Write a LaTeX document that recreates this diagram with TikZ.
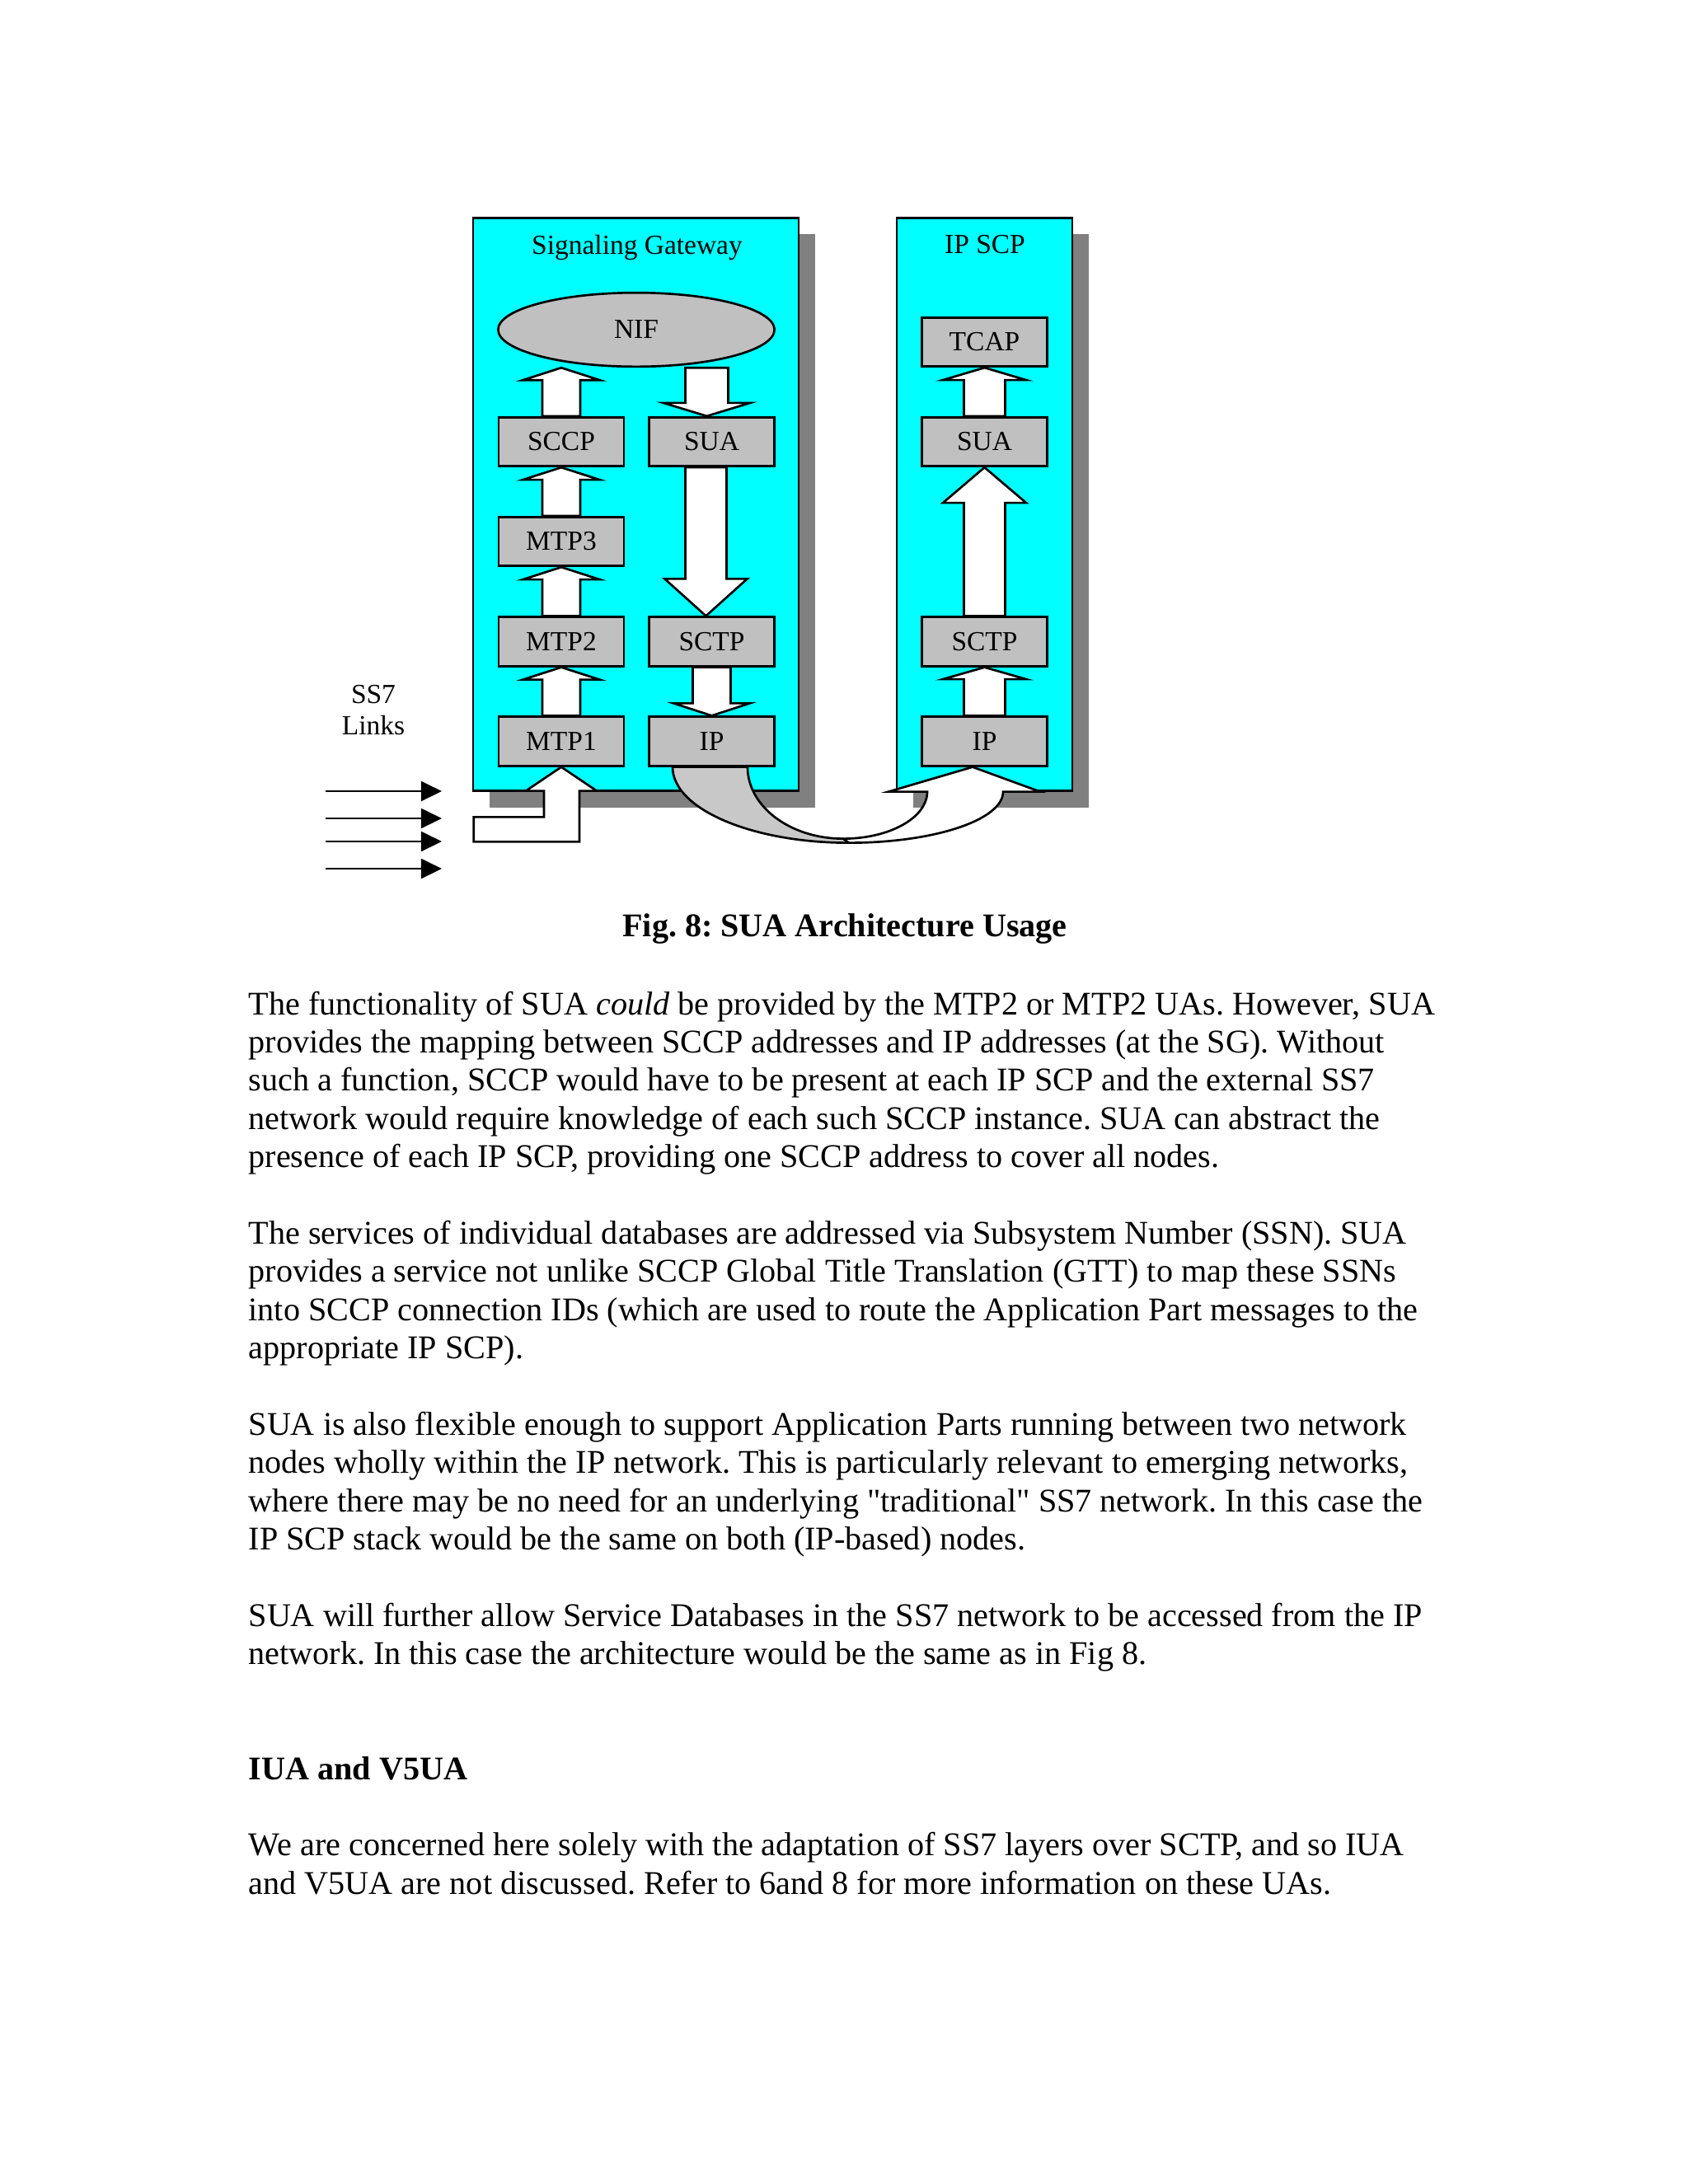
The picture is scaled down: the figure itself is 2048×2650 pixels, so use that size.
\documentclass[tikz,border=0pt]{standalone}
\usepackage{fontspec}
\setmainfont{Liberation Serif}[Ligatures=TeXOff]
\usetikzlibrary{calc,arrows.meta,shapes.geometric,shadows}
\definecolor{sgcyan}{RGB}{0,255,255}
\definecolor{boxgray}{RGB}{192,192,192}
\definecolor{shadowgray}{RGB}{128,128,128}
\definecolor{ribbongray}{RGB}{200,200,200}
\frenchspacing
% base, tip, shaft half width, head half width, signed head length
\newcommand{\blkarrow}[5]{%
  \draw[blk] (#2) -- ($(#2)+(#4,#5)$) -- ($(#2)+(#3,#5)$) -- ($(#1)+(#3,0)$)
    -- ($(#1)+(-#3,0)$) -- ($(#2)+(-#3,#5)$) -- ($(#2)+(-#4,#5)$) -- cycle;}
\begin{document}
\begin{tikzpicture}[x=0.29883pt,y=-0.29883pt,
  dfont/.style={font=\fontsize{10}{12}\selectfont},
  container/.style={draw, fill=sgcyan, line width=0.8pt, inner sep=0pt,
    drop shadow={shadow xshift=6pt, shadow yshift=-6pt, fill=shadowgray, opacity=1}},
  lay/.style={draw, fill=boxgray, line width=0.8pt, inner sep=0pt,
    minimum width=45.4pt, minimum height=17.8pt, dfont},
  blk/.style={draw, fill=white, line width=0.8pt, line join=miter},
  link/.style={line width=0.6pt, -{Triangle[length=7.5pt,width=7.2pt]}},
  body/.style={anchor=base west, inner sep=0pt, font=\fontsize{12}{14}\selectfont},
  title/.style={anchor=base, inner sep=0pt, dfont}]
\useasboundingbox (0,0) rectangle (2048,2650);
\fill[white] (0,0) rectangle (2048,2650);

% containers
\node[container, minimum width=118pt, minimum height=207.8pt] (sg) at (771.5,612) {};
\node[container, minimum width=63.6pt, minimum height=207.8pt] (scp) at (1194.5,612) {};
\node[title] (sgtitle) at (773,308) {Signaling Gateway};
\node[title] (scptitle) at (1195,307) {IP SCP};

% layers
\node[ellipse, draw, fill=boxgray, line width=0.8pt, inner sep=0pt,
  minimum width=100.2pt, minimum height=26.8pt, dfont] (nif) at (772,400) {NIF};
\node[lay] (sccp) at (681,536) {SCCP};
\node[lay] (sua1) at (863.5,536) {SUA};
\node[lay] (mtp3) at (681,657) {MTP3};
\node[lay] (mtp2) at (681,778.5) {MTP2};
\node[lay] (sctp1) at (863.5,778.5) {SCTP};
\node[lay] (mtp1) at (681,899.5) {MTP1};
\node[lay] (ip1) at (863.5,899.5) {IP};
\node[lay] (tcap) at (1194.5,415) {TCAP};
\node[lay] (sua2) at (1194.5,536) {SUA};
\node[lay] (sctp2) at (1194.5,778.5) {SCTP};
\node[lay] (ip2) at (1194.5,899.5) {IP};

% block arrows, signaling gateway
\coordinate (nifin) at (sccp.north |- nif.south);
\blkarrow{sccp.north}{nifin}{23}{46.5}{15}
\blkarrow{mtp3.north}{sccp.south}{23}{46.5}{15}
\blkarrow{mtp2.north}{mtp3.south}{23}{46.5}{15}
\blkarrow{mtp1.north}{mtp2.south}{23}{46.5}{15}
\coordinate (nifout) at ($(sua1.north |- nif.south)+(-6,0)$);
\coordinate (suain) at ($(sua1.north)+(-6,0)$);
\blkarrow{nifout}{suain}{26}{52.5}{-16}
\coordinate (suaout) at ($(sua1.south)+(-7,0)$);
\coordinate (sctpin) at ($(sctp1.north)+(-7,0)$);
\blkarrow{suaout}{sctpin}{25}{50}{-45}
\blkarrow{sctp1.south}{ip1.north}{23}{46}{-15}

% block arrows, IP SCP
\blkarrow{ip2.north}{sctp2.south}{25}{50.5}{14.5}
\blkarrow{sctp2.north}{sua2.south}{25}{50.5}{43}
\blkarrow{sua2.north}{tcap.south}{25}{50.5}{15}

% curved arrow from IP to IP
\begin{scope}[shift={(ip1.south)}]
\draw[fill=ribbongray, line width=0.8pt] (-47.5,0) .. controls (-47.5,50.8) and (48.3,92) .. (166.5,92)
  -- (159.5,87) .. controls (95.4,87) and (43.5,48) .. (43.5,0) -- cycle;
\end{scope}
\begin{scope}[shift={(ip2.south)}]
\draw[blk] (-164.5,92) .. controls (-61.2,92) and (22.5,64.2) .. (22.5,30)
  -- (67.5,30) -- (-14.5,0) -- (-116.5,30) -- (-69.5,30)
  .. controls (-69.5,61.5) and (-115.2,87) .. (-171.5,87) -- cycle;
\end{scope}

% SS7 links input arrow
\draw[blk] (mtp1.south) -- ++(43,29) -- ++(-21,0) -- ++(0,61.7) -- ++(-128.3,0)
  -- ++(0,-30) -- ++(85.3,0) -- ++(0,-31.7) -- ++(-22,0) -- cycle;

\node[title] (ss7) at (453,853) {SS7};
\node[title] (links) at (453,891) {Links};
\coordinate (l1s) at (395,960);  \coordinate (l1e) at (536,960);
\coordinate (l2s) at (395,993);  \coordinate (l2e) at (536,993);
\coordinate (l3s) at (395,1021); \coordinate (l3e) at (536,1021);
\coordinate (l4s) at (395,1054); \coordinate (l4e) at (536,1054);
\draw[link] (l1s) -- (l1e);
\draw[link] (l2s) -- (l2e);
\draw[link] (l3s) -- (l3e);
\draw[link] (l4s) -- (l4e);

% caption and text
\node[anchor=base, inner sep=0pt, font=\fontsize{12}{14}\selectfont\bfseries] (cap) at (1025,1136) {Fig. 8: SUA Architecture Usage};

\node[body] (t1) at (301,1231) {The functionality of SUA \textit{could} be provided by the MTP2 or MTP2 UAs. However, SUA};
\node[body] (t2) at (301,1277.4) {provides the mapping between SCCP addresses and IP addresses (at the SG). Without};
\node[body] (t3) at (301,1323.8) {such a function, SCCP would have to be present at each IP SCP and the external SS7};
\node[body] (t4) at (301,1370.2) {network would require knowledge of each such SCCP instance. SUA can abstract the};
\node[body] (t5) at (301,1416.6) {presence of each IP SCP, providing one SCCP address to cover all nodes.};

\node[body] (t6) at (301,1509.4) {The services of individual databases are addressed via Subsystem Number (SSN). SUA};
\node[body] (t7) at (301,1555.8) {provides a service not unlike SCCP Global Title Translation (GTT) to map these SSNs};
\node[body] (t8) at (301,1602.2) {into SCCP connection IDs (which are used to route the Application Part messages to the};
\node[body] (t9) at (301,1648.6) {appropriate IP SCP).};

\node[body] (t10) at (301,1741.4) {SUA is also flexible enough to support Application Parts running between two network};
\node[body] (t11) at (301,1787.8) {nodes wholly within the IP network. This is particularly relevant to emerging networks,};
\node[body] (t12) at (301,1834.2) {where there may be no need for an underlying "traditional" SS7 network. In this case the};
\node[body] (t13) at (301,1880.6) {IP SCP stack would be the same on both (IP-based) nodes.};

\node[body] (t14) at (301,1973.4) {SUA will further allow Service Databases in the SS7 network to be accessed from the IP};
\node[body] (t15) at (301,2019.8) {network. In this case the architecture would be the same as in Fig 8.};

\node[body, font=\fontsize{12}{14}\selectfont\bfseries] (head) at (301,2159) {IUA and V5UA};

\node[body] (t16) at (301,2251.8) {We are concerned here solely with the adaptation of SS7 layers over SCTP, and so IUA};
\node[body] (t17) at (301,2298.2) {and V5UA are not discussed. Refer to 6and 8 for more information on these UAs.};
\end{tikzpicture}
\end{document}
